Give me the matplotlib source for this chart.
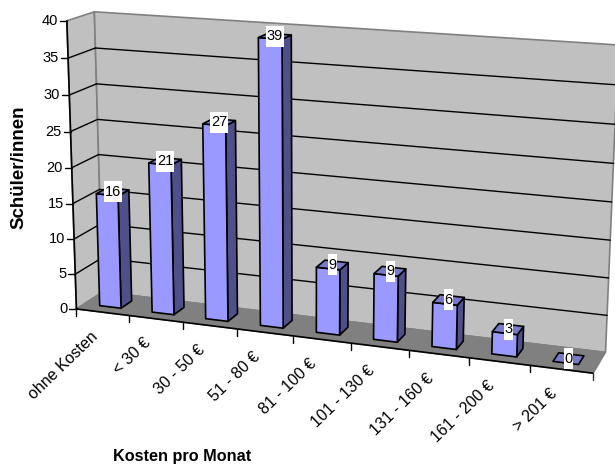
import numpy as np
import matplotlib
matplotlib.use('Agg')
import matplotlib.pyplot as plt
from matplotlib.patches import Rectangle

categories = ['ohne Kosten', '< 30 €', '30 - 50 €', '51 - 80 €', '81 - 100 €',
              '101 - 130 €', '131 - 160 €', '161 - 200 €', '> 201 €']
values = [16, 21, 27, 39, 9, 9, 6, 3, 0]
y_ticks = [0, 5, 10, 15, 20, 25, 30, 35, 40]

plt.rcParams['font.family'] = ['Liberation Sans', 'DejaVu Sans']

# calibration of the 3D view: (category, value, depth) -> pixel
calib = [((0, 0, 0), (77.3, 308.3)), ((0, 40, 0), (66, 21)),
         ((0, 20, 0), (71, 167.3)), ((0, 10, 0), (74.5, 238.7)), ((0, 30, 0), (68.5, 95.5)),
         ((0, 0, 1), (100, 293.3)), ((0, 40, 1), (94, 11.7)),
         ((0, 35, 1), (96, 48.3)), ((0, 30, 1), (97.3, 84)), ((0, 25, 1), (98.3, 119.3)),
         ((0, 20, 1), (99.3, 154.3)),
         ((9, 0, 0), (593.3, 373.3)), ((9, 0, 1), (605.7, 351.7)),
         ((9, 40, 1), (618, 44.5)), ((9, 35, 1), (617, 85.3)), ((9, 30, 1), (615.5, 124.3)),
         ((9, 15, 1), (610, 240)), ((9, 10, 1), (608.5, 277.7)), ((9, 5, 1), (607, 315)),
         ((1, 0, 0), (129.3, 315.3)), ((2, 0, 0), (183.3, 321.7)), ((3, 0, 0), (237.7, 328.3)),
         ((6, 0, 0), (409.3, 350.7)), ((7, 0, 0), (469, 358.3)), ((8, 0, 0), (530, 366.7))]
A = []
for (X, Y, Z), (u, v) in calib:
    A.append([X, Y, Z, 1, 0, 0, 0, 0, -u*X, -u*Y, -u*Z, -u])
    A.append([0, 0, 0, 0, X, Y, Z, 1, -v*X, -v*Y, -v*Z, -v])
M = np.linalg.svd(np.array(A, float))[2][-1].reshape(3, 4)


def P(x, y, z):
    h = M @ np.array([x, y, z, 1.0])
    return h[0]/h[2], h[1]/h[2]


fig = plt.figure(figsize=(6.15, 4.68), dpi=100)
ax = fig.add_axes([0, 0, 1, 1])
ax.set_xlim(0, 615)
ax.set_ylim(468, 0)
ax.axis('off')


def poly(pts, fc, ec='black', lw=1.2, zorder=2):
    ax.fill(*zip(*pts), facecolor=fc, edgecolor=ec, linewidth=lw, zorder=zorder,
            joinstyle='round', clip_on=True)


def line(a, b, color='black', lw=1.0, zorder=2):
    ax.plot(*zip(a, b), color=color, lw=lw, zorder=zorder, solid_capstyle='round')


n = len(categories)
top = y_ticks[-1]
WALL, GREY = '#C0C0C0', '#808080'
FRONT, SIDE, TOPC = '#9999FF', '#4F4F8A', '#7A7ACC'

# walls and floor
poly([P(0, 0, 0), P(0, top, 0), P(0, top, 1), P(0, 0, 1)], WALL, GREY, 1.2, 1)
poly([P(0, 0, 1), P(0, top, 1), P(n, top, 1), P(n, 0, 1)], WALL, GREY, 1.2, 1)
poly([P(0, 0, 0), P(0, 0, 1), P(n, 0, 1), P(n, 0, 0)], GREY, GREY, 1.0, 1)

# gridlines
for t in y_ticks[1:-1]:
    line(P(0, t, 0), P(0, t, 1), zorder=1.5)
    line(P(0, t, 1), P(n, t, 1), zorder=1.5)

# axes and ticks
line(P(0, 0, 0), P(0, top, 0), lw=1.2, zorder=1.6)
line(P(0, 0, 0), P(n, 0, 0), lw=1.2, zorder=1.6)
for t in y_ticks:
    u, v = P(0, t, 0)
    line((u, v), (u - 7, v), lw=1.0)
    ax.text(u - 9, v, str(t), ha='right', va='center', fontsize=10.5, color='black')
for i in range(n + 1):
    u, v = P(i, 0, 0)
    line((u, v), (u, v + 7), lw=1.0, color='#333333' if i == n else 'black')
for i, c in enumerate(categories):
    u, v = P(i + 0.5, 0, 0)
    ax.text(u - 7.5, v + 22, c, rotation=44, ha='right', va='center', rotation_mode='anchor',
            fontsize=11.5, color='black')

# bars
W = 0.41
Z0, Z1 = 0.30, 0.72
for i, val in enumerate(values):
    x0 = i + (1 - W)/2
    x1 = x0 + W
    z = 3 + 0.01*i
    if val > 0:
        poly([P(x1, 0, Z0), P(x1, val, Z0), P(x1, val, Z1), P(x1, 0, Z1)], SIDE, zorder=z)
        poly([P(x0, 0, Z0), P(x0, val, Z0), P(x1, val, Z0), P(x1, 0, Z0)], FRONT, zorder=z)
    poly([P(x0, val, Z0), P(x0, val, Z1), P(x1, val, Z1), P(x1, val, Z0)], TOPC, zorder=z)

for i, val in enumerate(values):
    u, v = P(i + 0.5, val, (Z0 + Z1)/2)
    label = str(val)
    w = 9*len(label)
    ax.add_patch(Rectangle((u - w/2, v - 10.5), w, 21, facecolor='white', edgecolor='none', zorder=5))
    ax.text(u, v, label, ha='center', va='center', fontsize=10.5, color='black', zorder=6)

ax.text(18.5, 167, 'Schüler/innen', rotation=90, ha='center', va='center',
        fontsize=13.5, fontweight='bold')
ax.text(182, 456, 'Kosten pro Monat', ha='center', va='center',
        fontsize=11.7, fontweight='bold')

fig.savefig('out.png', dpi=100)
